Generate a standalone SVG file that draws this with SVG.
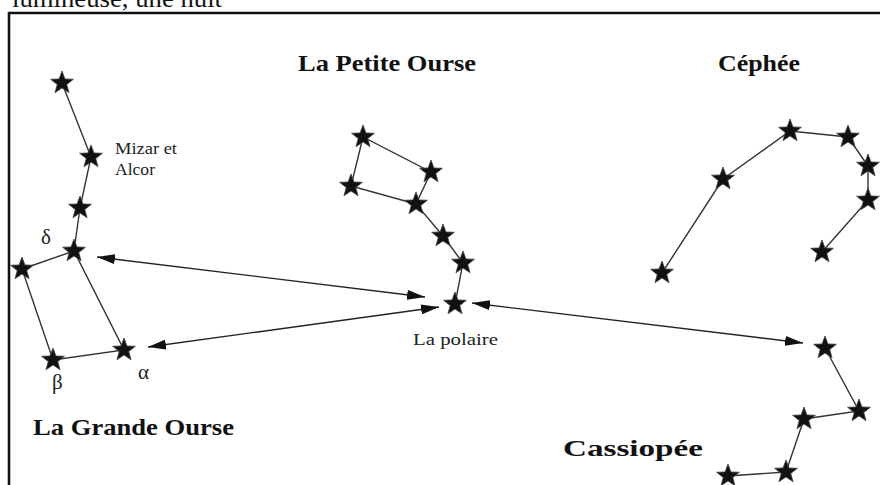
<svg xmlns="http://www.w3.org/2000/svg" xmlns:xlink="http://www.w3.org/1999/xlink" width="880" height="485" viewBox="0 0 880 485">
  <style>
    .frame { fill: none; stroke: #111; stroke-width: 2.6; }
    .link { fill: none; stroke: #333; stroke-width: 1.4; stroke-linecap: round; }
    .arrow { fill: none; stroke: #222; stroke-width: 1.4; marker-start: url(#head); marker-end: url(#head); }
    .title { font-family: "Liberation Serif", "Times New Roman", serif; font-weight: bold; font-size: 23px; fill: #111; }
    .label { font-family: "Liberation Serif", "Times New Roman", serif; font-size: 16px; fill: #222; }
    .greek { font-family: "Liberation Serif", "Times New Roman", serif; font-size: 21px; fill: #222; }
    .star { fill: #111; stroke: #444; stroke-width: 0.8; stroke-linejoin: round; }
  </style>
  <defs>
    <polygon id="star" class="star" points="0,-12 2.94,-4.05 11.41,-3.71 4.76,1.55 7.05,9.71 0,5 -7.05,9.71 -4.76,1.55 -11.41,-3.71 -2.94,-4.05"/>
    <marker id="head" markerUnits="userSpaceOnUse" markerWidth="18" markerHeight="10" refX="18" refY="5" orient="auto-start-reverse">
      <path d="M0,0 L18,5 L0,10 Z" fill="#111"/>
    </marker>
  </defs>

  <rect width="880" height="485" fill="#fff"/>

  <!-- running text above the frame -->
  <text x="12" y="7" font-family="Liberation Serif, Times New Roman, serif" font-size="25" fill="#111" textLength="210" lengthAdjust="spacingAndGlyphs">lumineuse, une nuit</text>

  <!-- frame -->
  <path class="frame" d="M9,485 V13 H880"/>

  <!-- constellation outlines and pointer arrows -->
  <g id="connectors">
    <polyline class="link" points="62,83 91,157 80,208 74,251 22,269 53,360 124,350 74,251"/>
    <polyline class="link" points="416,204 351,186 363,137 431,172 416,204 443,236 463,263 455,304"/>
    <polyline class="link" points="662,273 723,179 790,131 848,137 868,166 868,200 822,252"/>
    <polyline class="link" points="825,348 859,411 804,419 786,472 728,476"/>
    <line class="arrow" x1="97" y1="257" x2="425" y2="297"/>
    <line class="arrow" x1="148" y1="347" x2="439" y2="307"/>
    <line class="arrow" x1="472" y1="303" x2="803" y2="343"/>
  </g>

  <!-- La Grande Ourse -->
  <g id="grande-ourse">
    <use id="go-1" xlink:href="#star" x="62" y="83"/>
    <use id="go-mizar" xlink:href="#star" x="91" y="157"/>
    <use id="go-3" xlink:href="#star" x="80" y="208"/>
    <use id="go-delta" xlink:href="#star" x="74" y="251"/>
    <use id="go-5" xlink:href="#star" x="22" y="269"/>
    <use id="go-beta" xlink:href="#star" x="53" y="360"/>
    <use id="go-alpha" xlink:href="#star" x="124" y="350"/>
    <text class="label" x="115" y="154" textLength="62" lengthAdjust="spacingAndGlyphs">Mizar et</text>
    <text class="label" x="115" y="175" textLength="40" lengthAdjust="spacingAndGlyphs">Alcor</text>
    <text class="greek" x="41" y="244">δ</text>
    <text class="greek" x="52" y="389">β</text>
    <text class="greek" x="138" y="379">α</text>
    <text class="title" x="33" y="435" textLength="201" lengthAdjust="spacingAndGlyphs">La Grande Ourse</text>
  </g>

  <!-- La Petite Ourse -->
  <g id="petite-ourse">
    <use id="po-1" xlink:href="#star" x="363" y="137"/>
    <use id="po-2" xlink:href="#star" x="431" y="172"/>
    <use id="po-3" xlink:href="#star" x="351" y="186"/>
    <use id="po-4" xlink:href="#star" x="416" y="204"/>
    <use id="po-5" xlink:href="#star" x="443" y="236"/>
    <use id="po-6" xlink:href="#star" x="463" y="263"/>
    <use id="polaire" xlink:href="#star" x="455" y="304"/>
    <text class="label" x="413" y="345" font-size="18" textLength="85" lengthAdjust="spacingAndGlyphs">La polaire</text>
    <text class="title" x="298" y="71" textLength="178" lengthAdjust="spacingAndGlyphs">La Petite Ourse</text>
  </g>

  <!-- Céphée -->
  <g id="cephee">
    <use id="ce-1" xlink:href="#star" x="662" y="273"/>
    <use id="ce-2" xlink:href="#star" x="723" y="179"/>
    <use id="ce-3" xlink:href="#star" x="790" y="131"/>
    <use id="ce-4" xlink:href="#star" x="848" y="137"/>
    <use id="ce-5" xlink:href="#star" x="868" y="166"/>
    <use id="ce-6" xlink:href="#star" x="868" y="200"/>
    <use id="ce-7" xlink:href="#star" x="822" y="252"/>
    <text class="title" x="718" y="71" textLength="82" lengthAdjust="spacingAndGlyphs">Céphée</text>
  </g>

  <!-- Cassiopée -->
  <g id="cassiopee">
    <use id="ca-1" xlink:href="#star" x="825" y="348"/>
    <use id="ca-2" xlink:href="#star" x="859" y="411"/>
    <use id="ca-3" xlink:href="#star" x="804" y="419"/>
    <use id="ca-4" xlink:href="#star" x="786" y="472"/>
    <use id="ca-5" xlink:href="#star" x="728" y="476"/>
    <text class="title" x="563" y="456" textLength="140" lengthAdjust="spacingAndGlyphs">Cassiopée</text>
  </g>
</svg>
